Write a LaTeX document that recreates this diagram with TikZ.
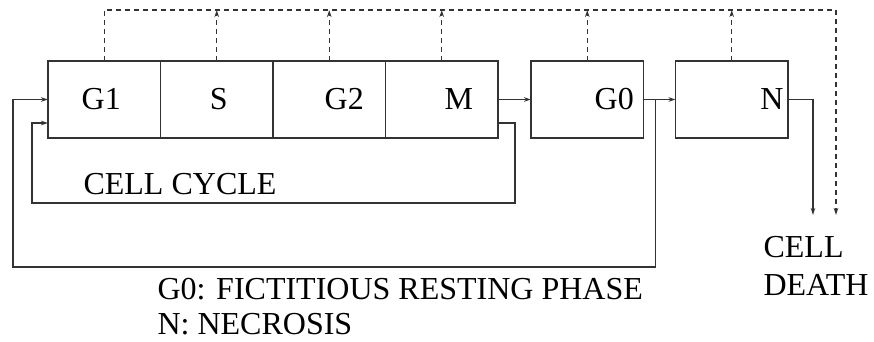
\documentclass[tikz,border=0pt]{standalone}
\usepackage{fontspec}
\setmainfont{Liberation Serif}
\usetikzlibrary{arrows.meta,positioning,calc}

\begin{document}
\begin{tikzpicture}[x=1pt, y=-1pt, line width=1.1pt, black!80,
    phase/.style={rectangle, draw, minimum width=112.5pt, minimum height=77pt,
        inner sep=0pt, outer sep=0pt},
    lbl/.style={font=\fontsize{32}{35}\selectfont, inner sep=0pt, text=black},
    arr/.style={-{Stealth[length=7pt,width=4.5pt]}},
    darr/.style={arr, dash pattern=on 5pt off 4pt}
]
    \useasboundingbox (0,0) rectangle (874,341);

    % phases of the cycle
    \node[phase] (g1) at (104.25,99.5) {};
    \node[phase, right=0pt of g1] (s) {};
    \node[phase, right=0pt of s] (g2) {};
    \node[phase, right=0pt of g2] (m) {};
    \node[phase, right=33pt of m] (g0) {};
    \node[phase, right=32pt of g0] (n) {};

    \node[lbl] (g1lbl) at ([xshift=-3pt]g1.center) {G1};
    \node[lbl] (slbl) at ([xshift=2pt]s.center) {S};
    \node[lbl] (g2lbl) at ([xshift=15pt]g2.center) {G2};
    \node[lbl] (mlbl) at ([xshift=17pt]m.center) {M};
    \node[lbl] (g0lbl) at ([xshift=27pt]g0.center) {G0};
    \node[lbl, anchor=east] (nlbl) at ([xshift=-4pt]n.east) {N};

    \coordinate (split) at ($(g0.east)+(12,0)$);
    \coordinate (outer) at (13,267);
    \coordinate (inner) at (32,203);
    \coordinate (death) at (813,215);
    \coordinate (dcorner) at (836,10);
    \coordinate (ddeath) at (836,215);

    \draw[arr] (m) -- (g0);
    \draw[arr] (g0) -- (n);
    \draw[arr] (split) |- (outer) |- (g1.west);
    \draw[arr] ($(m.east)+(0,23.5)$) -- ++(17,0) |- (inner) |- ($(g1.west)+(0,23.5)$);
    \draw[arr] (n.east) -| (death);

    % dashed lines to cell death
    \draw[darr] (g1.north) |- (dcorner) -- (ddeath);
    \foreach \p in {s,g2,m,g0,n}
        \draw[darr] (\p.north) -- (\p.north |- dcorner);

    % texts
    \node[lbl, anchor=base west] (cycle) at (83,194) {CELL CYCLE};
    \node[lbl, anchor=base west, align=left] (legend) at (157,334)
        {G0: FICTITIOUS RESTING PHASE\\N: NECROSIS};
    \node[lbl, font=\fontsize{32}{38}\selectfont, anchor=base west, align=left]
        (deathlbl) at (763,295) {CELL\\DEATH};
\end{tikzpicture}
\end{document}
